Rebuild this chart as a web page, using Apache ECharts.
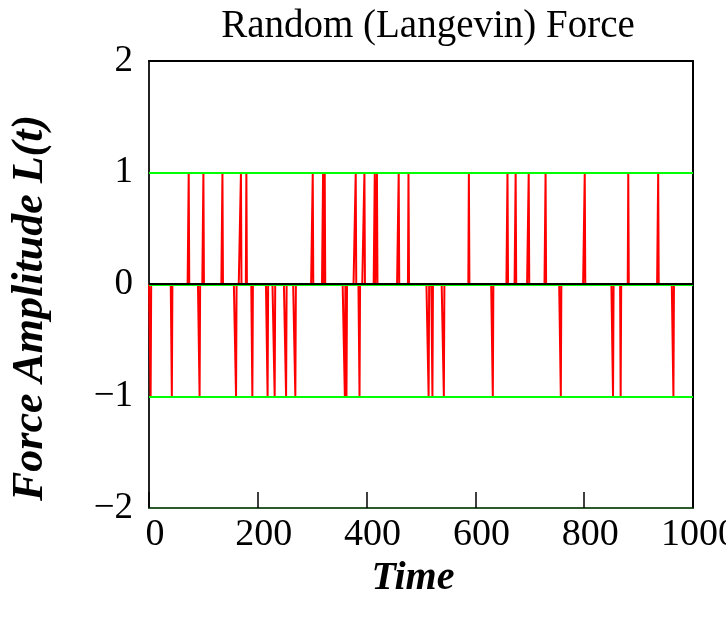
<!DOCTYPE html>
<html>
<head>
<meta charset="utf-8">
<script src="https://cdn.jsdelivr.net/npm/echarts@6/dist/echarts.min.js"></script>
<style>
html,body{margin:0;padding:0;background:#fff;}
#chart{width:726px;height:619px;}
</style>
</head>
<body>
<div id="chart"></div>
<script>
// Data
const titleText = 'Random (Langevin) Force';
const xName = 'Time';
const yName = 'Force Amplitude L(t)';
const timeMin = 0;
const timeMax = 1000;
// times where the force is +1
const positiveSpikes = [73, 100, 135, 169, 179, 301, 320, 323, 380, 396, 415, 419, 459, 477, 588, 659, 674, 698, 729, 801, 881, 936];
// times where the force is -1
const negativeSpikes = [3, 42, 93, 160, 190, 218, 231, 252, 269, 360, 363, 387, 514, 521, 542, 632, 757, 853, 867, 964];
const xTicks = [0, 200, 400, 600, 800, 1000];
const yTicks = [-2, -1, 0, 1, 2];
const levelLines = [-1, 0, 1];

// Build the series: zero everywhere except at the spike times
const forceData = [];
for (let t = timeMin; t <= timeMax; t++) {
  let v = 0;
  if (positiveSpikes.indexOf(t) >= 0) v = 1;
  else if (negativeSpikes.indexOf(t) >= 0) v = -1;
  forceData.push([t, v]);
}

const serif = '"Liberation Serif", "Times New Roman", serif';
const chart = echarts.init(document.getElementById('chart'), null, {renderer: 'canvas'});
const fmtNum = v => String(v).replace('-', '\u2212');

chart.setOption({
  animation: false,
  backgroundColor: '#ffffff',
  title: {
    text: titleText,
    left: 423, top: 2, textAlign: 'center',
    textStyle: {fontFamily: serif, fontSize: 39, fontWeight: 'normal', color: '#000'}
  },
  graphic: [{
    type: 'text', x: 31, y: 308, rotation: Math.PI / 2, silent: true,
    style: {
      text: yName, fill: '#000', align: 'center', verticalAlign: 'middle',
      font: 'italic bold 44px ' + serif
    }
  }],
  grid: {left: 149, right: 33, top: 61, bottom: 111, containLabel: false, outerBoundsMode: 'none'},
  xAxis: [{
    type: 'value', min: timeMin, max: timeMax, interval: 200, position: 'bottom',
    name: xName, nameLocation: 'middle', nameGap: 35,
    nameTextStyle: {fontFamily: serif, fontSize: 40, fontWeight: 'bold', fontStyle: 'italic', color: '#000',
      padding: [0, 16, 0, 0]},
    axisLine: {show: true, onZero: false, lineStyle: {color: '#2d5a2d', width: 2}},
    axisTick: {show: true, inside: true, length: 16, lineStyle: {color: '#000', width: 1.5}},
    axisLabel: {fontFamily: serif, fontSize: 38, color: '#000', margin: 8, padding: [0, 0, 0, 12],
      formatter: v => String(v), hideOverlap: false},
    splitLine: {show: false}
  }, {
    type: 'value', min: timeMin, max: timeMax, position: 'top',
    axisLine: {show: true, onZero: false, lineStyle: {color: '#000', width: 2}},
    axisTick: {show: false}, axisLabel: {show: false}, splitLine: {show: false}
  }],
  yAxis: [{
    type: 'value', min: -2, max: 2, interval: 1, position: 'left',
    axisLine: {show: true, onZero: false, lineStyle: {color: '#222', width: 2}},
    axisTick: {show: false},
    axisLabel: {fontFamily: serif, fontSize: 37, color: '#000', margin: 16, padding: [6, 0, 0, 0], formatter: fmtNum},
    splitLine: {show: false}
  }, {
    type: 'value', min: -2, max: 2, interval: 1, position: 'right',
    axisLine: {show: true, onZero: false, lineStyle: {color: '#000', width: 2}},
    axisTick: {show: false}, axisLabel: {show: false}, splitLine: {show: false}
  }],
  series: [{
    name: 'levels', type: 'line', data: [], z: 1, silent: true,
    markLine: {
      silent: true, symbol: ['none', 'none'], label: {show: false},
      lineStyle: {color: '#00ff00', width: 2, type: 'solid'},
      data: levelLines.map(v => ({yAxis: v}))
    }
  }, {
    name: 'force', type: 'line', data: forceData, z: 2,
    showSymbol: false, symbol: 'none', sampling: null,
    lineStyle: {color: '#ff0000', width: 2}
  }, {
    name: 'zero', type: 'line', data: [], z: 3, silent: true,
    markLine: {
      silent: true, symbol: ['none', 'none'], label: {show: false},
      lineStyle: {color: '#000', width: 2, type: 'solid'},
      data: [{yAxis: 0.015}]
    }
  }]
});
</script>
</body>
</html>
